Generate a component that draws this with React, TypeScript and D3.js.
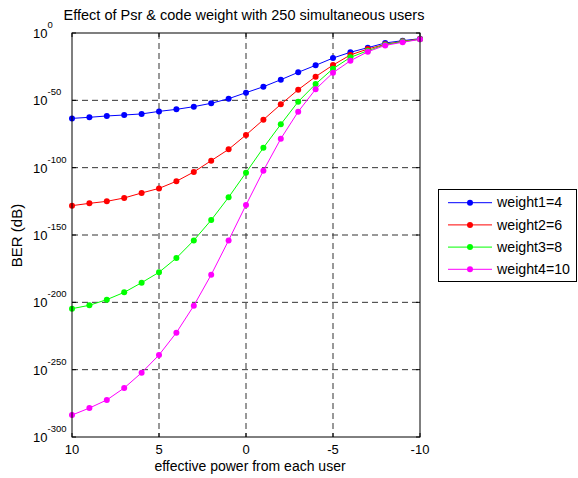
import React from "react";
import * as d3 from "d3";

const xValues = [10, 9, 8, 7, 6, 5, 4, 3, 2, 1, 0, -1, -2, -3, -4, -5, -6, -7, -8, -9, -10];
// log10(BER)
const weight1Exp = [-63.4, -62.6, -61.6, -60.9, -60.1, -58.2, -56.7, -54.7, -52.2, -48.8, -44.3, -39.9, -34.7, -29.2, -24.0, -18.6, -14.3, -10.9, -7.4, -5.7, -4.2];
const weight2Exp = [-128.2, -126.5, -125.0, -122.5, -118.8, -115.4, -110.1, -103.2, -94.8, -86.4, -75.7, -64.4, -53.0, -42.1, -32.4, -23.8, -16.3, -11.9, -8.4, -6.2, -4.5];
const weight3Exp = [-204.7, -202.2, -198.0, -192.6, -185.4, -177.7, -167.1, -154.0, -138.9, -122.0, -103.7, -85.2, -67.8, -51.0, -37.9, -26.5, -18.1, -13.1, -8.7, -6.4, -4.7];
const weight4Exp = [-283.7, -278.5, -272.5, -263.6, -252.3, -239.1, -222.5, -202.5, -179.5, -154.0, -127.7, -102.2, -78.5, -58.4, -41.8, -29.5, -20.6, -13.9, -9.2, -6.9, -4.7];
const seriesNames = ["weight1=4", "weight2=6", "weight3=8", "weight4=10"];
const seriesColors = ["#0000ff", "#ff0000", "#00ff00", "#ff00ff"];
const xTicks = [10, 5, 0, -5, -10];
const yTickExps = [0, -50, -100, -150, -200, -250, -300];

const allExp = [weight1Exp, weight2Exp, weight3Exp, weight4Exp];

export default function App() {
  const W = 578, H = 478;
  const L = 72, R = 420, T = 33, B = 437;
  const x = d3.scaleLinear().domain([10, -10]).range([L, R]);
  const y = d3.scaleLog().domain([1e-300, 1]).range([B, T]);
  const line = d3.line<[number, number]>().x(d => x(d[0])).y(d => y(d[1]));
  const font = "'Liberation Sans', Arial, sans-serif";
  const dash = "6,4";
  return (
    <svg width={W} height={H} style={{ position: "absolute", left: 0, top: 0, background: "#fff" }} fontFamily={font}>
      <rect x={0} y={0} width={W} height={H} fill="#fff" />
      <rect x={L} y={T} width={R - L} height={B - T} fill="#fff" />
      {/* grid */}
      {xTicks.filter(t => t !== 10 && t !== -10).map(t => (
        <line key={"gx" + t} x1={x(t)} x2={x(t)} y1={T} y2={B} stroke="#333" strokeWidth={1} strokeDasharray={dash} />
      ))}
      {yTickExps.filter(e => e !== 0 && e !== -300).map(e => (
        <line key={"gy" + e} x1={L} x2={R} y1={y(Math.pow(10, e))} y2={y(Math.pow(10, e))} stroke="#333" strokeWidth={1} strokeDasharray={dash} />
      ))}
      {/* ticks */}
      {xTicks.map(t => (
        <g key={"tx" + t}>
          <line x1={x(t)} x2={x(t)} y1={B} y2={B - 4} stroke="#000" />
          <line x1={x(t)} x2={x(t)} y1={T} y2={T + 4} stroke="#000" />
          <text x={x(t)} y={454} fontSize={13} textAnchor="middle" fill="#000">{t}</text>
        </g>
      ))}
      {yTickExps.map(e => {
        const yy = y(Math.pow(10, e));
        return (
          <g key={"ty" + e}>
            <line x1={L} x2={L + 4} y1={yy} y2={yy} stroke="#000" />
            <line x1={R} x2={R - 4} y1={yy} y2={yy} stroke="#000" />
            <text x={33} y={yy + 5} fontSize={13} fill="#000">
              10<tspan dy={-10} fontSize={9.5}>{e}</tspan>
            </text>
          </g>
        );
      })}
      {/* series */}
      {allExp.map((exps, i) => {
        const pts: [number, number][] = xValues.map((xv, j) => [xv, Math.pow(10, exps[j])]);
        return (
          <g key={"s" + i}>
            <path d={line(pts) || ""} fill="none" stroke={seriesColors[i]} strokeWidth={1} />
            {pts.map((p, j) => (
              <circle key={j} cx={x(p[0])} cy={y(p[1])} r={3} fill={seriesColors[i]} />
            ))}
          </g>
        );
      })}
      {/* box */}
      <rect x={L} y={T} width={R - L} height={B - T} fill="none" stroke="#000" strokeWidth={1} />
      {/* title & labels */}
      <text x={244} y={19.5} fontSize={14.5} textAnchor="middle" fill="#000">Effect of Psr &amp; code weight with 250 simultaneous users</text>
      <text x={250} y={470.5} fontSize={14} textAnchor="middle" fill="#000">effective power from each user</text>
      <text transform={`translate(22,235.5) rotate(-90)`} fontSize={15} textAnchor="middle" fill="#000">BER (dB)</text>
      {/* legend */}
      <rect x={438.5} y={189.5} width={138} height={92} fill="#fff" stroke="#000" strokeWidth={1} />
      {seriesNames.map((n, i) => {
        const ly = 202.7 + i * 22.2;
        return (
          <g key={"l" + i}>
            <line x1={448} x2={492} y1={ly} y2={ly} stroke={seriesColors[i]} strokeWidth={1} />
            <circle cx={470} cy={ly} r={3} fill={seriesColors[i]} />
            <text x={497} y={ly + 4.7} fontSize={14.2} fill="#000">{n}</text>
          </g>
        );
      })}
    </svg>
  );
}
